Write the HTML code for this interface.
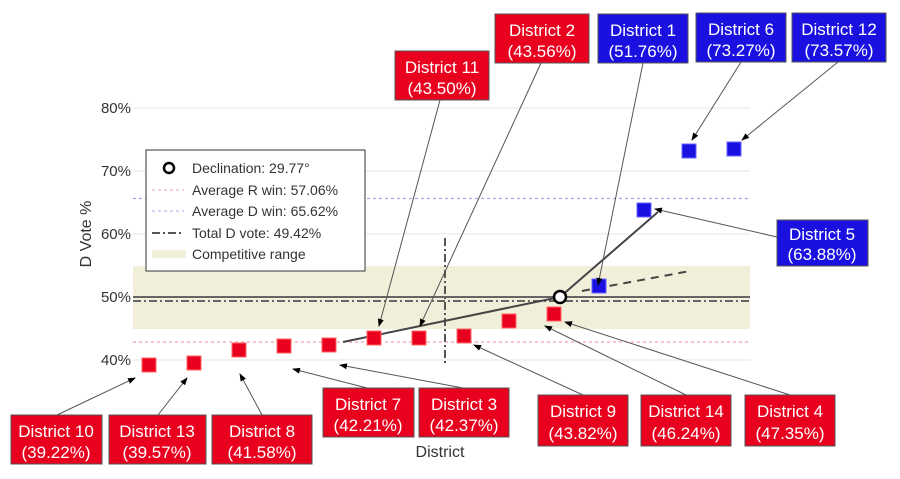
<!DOCTYPE html>
<html><head><meta charset="utf-8"><style>
body{margin:0;background:#fff;width:900px;height:474px;overflow:hidden;font-family:"Liberation Sans",sans-serif}
</style></head><body>
<svg width="900" height="474" xmlns="http://www.w3.org/2000/svg" font-family="Liberation Sans, sans-serif">
<defs><marker id="a" markerWidth="8" markerHeight="6" refX="7" refY="3" orient="auto"><path d="M0,0 L8,3 L0,6z" fill="#000"/></marker></defs>
<g stroke="#eee" stroke-width="1.5">
<line x1="133" x2="750" y1="108" y2="108"/><line x1="133" x2="750" y1="171" y2="171"/><line x1="133" x2="750" y1="234" y2="234"/><line x1="133" x2="750" y1="360" y2="360"/>
</g>
<rect x="133" y="266" width="617" height="63" fill="#f1efd9"/>
<line x1="133" x2="750" y1="297" y2="297" stroke="#666" stroke-width="2"/>
<line x1="133" x2="750" y1="301" y2="301" stroke="#666" stroke-width="2" stroke-dasharray="8,3,2,3"/>
<line x1="133" x2="750" y1="342" y2="342" stroke="#f0a0b0" stroke-width="1.2" stroke-dasharray="3,3"/>
<line x1="133" x2="750" y1="198.5" y2="198.5" stroke="#a8a8e8" stroke-width="1.2" stroke-dasharray="3,3"/>
<line x1="445" x2="445" y1="238" y2="364" stroke="#555" stroke-width="2" stroke-dasharray="8,3,2,3"/>
<g font-size="15" fill="#333" text-anchor="end">
<text x="131" y="113">80%</text><text x="131" y="176">70%</text><text x="131" y="239">60%</text><text x="131" y="302">50%</text><text x="131" y="365">40%</text>
</g>
<text transform="translate(91,234) rotate(-90)" font-size="16" fill="#333" text-anchor="middle">D Vote %</text>
<text x="440" y="457" font-size="16" fill="#333" text-anchor="middle">District</text>
<line x1="343" y1="342" x2="560" y2="297" stroke="#444" stroke-width="2"/>
<line x1="560" y1="297" x2="658" y2="212" stroke="#444" stroke-width="2"/>
<line x1="582" y1="291" x2="690" y2="271" stroke="#444" stroke-width="2" stroke-dasharray="8,6"/>
<g fill="#e8001e" stroke="#f66" stroke-width="1">
<rect x="142" y="358" width="14" height="14"/><rect x="187" y="356" width="14" height="14"/><rect x="232" y="343" width="14" height="14"/><rect x="277" y="339" width="14" height="14"/><rect x="322" y="338" width="14" height="14"/><rect x="367" y="331" width="14" height="14"/><rect x="412" y="331" width="14" height="14"/><rect x="457" y="329" width="14" height="14"/><rect x="502" y="314" width="14" height="14"/><rect x="547" y="307" width="14" height="14"/>
</g>
<g fill="#1a10e0" stroke="#66f" stroke-width="1">
<rect x="592" y="279" width="14" height="14"/><rect x="637" y="203" width="14" height="14"/><rect x="682" y="144" width="14" height="14"/><rect x="727" y="142" width="14" height="14"/>
</g>
<circle cx="560" cy="297" r="6" fill="#fff" stroke="#000" stroke-width="2.5"/>
<rect x="146" y="150" width="219" height="121" fill="#fff" stroke="#333" stroke-width="1"/>
<g font-size="14" fill="#333">
<circle cx="169" cy="168" r="5" fill="none" stroke="#000" stroke-width="2.5"/><text x="192" y="173">Declination: 29.77°</text>
<line x1="152" x2="184" y1="190" y2="190" stroke="#f0a0b0" stroke-dasharray="3,3"/><text x="192" y="195">Average R win: 57.06%</text>
<line x1="152" x2="184" y1="211" y2="211" stroke="#a8a8e8" stroke-dasharray="3,3"/><text x="192" y="216">Average D win: 65.62%</text>
<line x1="152" x2="184" y1="233" y2="233" stroke="#555" stroke-width="2" stroke-dasharray="8,3,2,3"/><text x="192" y="238">Total D vote: 49.42%</text>
<rect x="152" y="250" width="34" height="8" fill="#f1efd9"/><text x="192" y="259">Competitive range</text>
</g>
<g stroke="#555" stroke-width="1" marker-end="url(#a)">
<line x1="57" y1="415" x2="135" y2="378"/><line x1="158" y1="415" x2="187" y2="378"/><line x1="262" y1="415" x2="240" y2="374"/>
<line x1="367" y1="388" x2="293" y2="369"/><line x1="463" y1="388" x2="340" y2="365"/><line x1="583" y1="395" x2="474" y2="345"/>
<line x1="686" y1="395" x2="545" y2="326"/><line x1="790" y1="395" x2="565" y2="322"/><line x1="440" y1="100" x2="379" y2="326"/>
<line x1="541" y1="63" x2="420" y2="326"/><line x1="643" y1="63" x2="598" y2="285"/><line x1="741" y1="62" x2="692" y2="140"/>
<line x1="838" y1="62" x2="742" y2="140"/><line x1="777" y1="237" x2="655" y2="209"/>
</g>
<g font-size="17" fill="#fff" text-anchor="middle" stroke-width="1">
<g fill="#e8001e" stroke="#555"><rect x="11" y="415" width="91" height="49"/><rect x="109" y="415" width="97" height="49"/><rect x="212" y="415" width="100" height="49"/><rect x="323" y="388" width="91" height="49"/><rect x="419" y="388" width="90" height="49"/><rect x="538" y="395" width="90" height="51"/><rect x="641" y="395" width="90" height="51"/><rect x="745" y="395" width="90" height="51"/><rect x="395" y="51" width="94" height="49"/><rect x="495" y="14" width="94" height="49"/></g>
<g fill="#1a10e0" stroke="#555"><rect x="598" y="14" width="90" height="49"/><rect x="696" y="13" width="90" height="49"/><rect x="792" y="13" width="94" height="49"/><rect x="777" y="220" width="91" height="46"/></g>
<text x="56" y="437">District 10</text><text x="56" y="458">(39.22%)</text>
<text x="157" y="437">District 13</text><text x="157" y="458">(39.57%)</text>
<text x="262" y="437">District 8</text><text x="262" y="458">(41.58%)</text>
<text x="368" y="410">District 7</text><text x="368" y="431">(42.21%)</text>
<text x="464" y="410">District 3</text><text x="464" y="431">(42.37%)</text>
<text x="583" y="417">District 9</text><text x="583" y="439">(43.82%)</text>
<text x="686" y="417">District 14</text><text x="686" y="439">(46.24%)</text>
<text x="790" y="417">District 4</text><text x="790" y="439">(47.35%)</text>
<text x="442" y="73">District 11</text><text x="442" y="94">(43.50%)</text>
<text x="542" y="36">District 2</text><text x="542" y="57">(43.56%)</text>
<text x="643" y="36">District 1</text><text x="643" y="57">(51.76%)</text>
<text x="741" y="35">District 6</text><text x="741" y="56">(73.27%)</text>
<text x="839" y="35">District 12</text><text x="839" y="56">(73.57%)</text>
<text x="822" y="240">District 5</text><text x="822" y="260">(63.88%)</text>
</g>
</svg>
</body></html>
